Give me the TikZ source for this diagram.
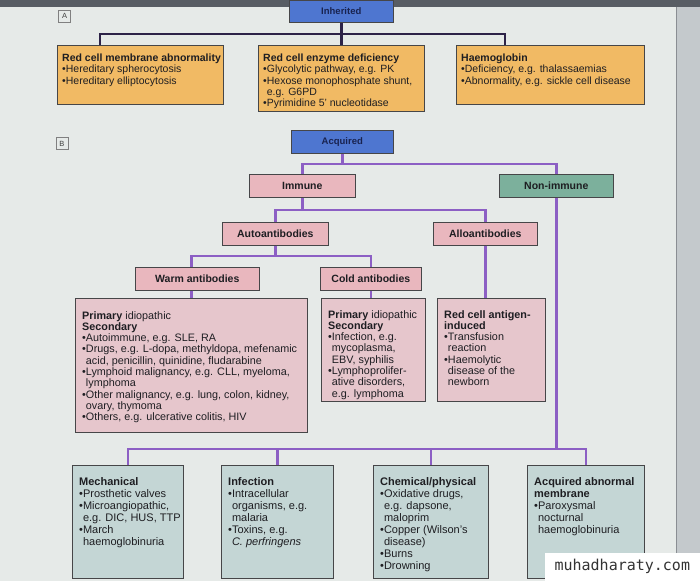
\documentclass[tikz,border=0pt]{standalone}
\usepackage{fontspec}
\setmainfont{Liberation Sans}
\newfontfamily\wmfont{DejaVu Sans Mono}
\usetikzlibrary{positioning,calc}

\definecolor{pagebg}{RGB}{230,234,232}
\definecolor{edgec}{RGB}{88,93,100}
\definecolor{stripc}{RGB}{196,201,204}
\definecolor{orangec}{RGB}{241,186,100}
\definecolor{bluec}{RGB}{78,118,208}
\definecolor{navyc}{RGB}{25,35,80}
\definecolor{pinkc}{RGB}{233,183,190}
\definecolor{lpinkc}{RGB}{230,198,204}
\definecolor{greenc}{RGB}{124,176,156}
\definecolor{greyc}{RGB}{196,214,213}
\definecolor{linea}{RGB}{45,35,72}
\definecolor{lineb}{RGB}{140,95,196}
\definecolor{bordc}{RGB}{70,70,72}
\definecolor{textc}{RGB}{30,30,34}

\newcommand{\bul}{\textbullet}
\newcommand{\ind}{\phantom{\textbullet}}
\newcommand{\bodyfont}{\fontsize{10.8}{11.3}\selectfont}
\newcommand{\lowfont}{\fontsize{11}{12.1}\selectfont}

\tikzset{
  box/.style={draw=bordc, line width=0.6pt, inner sep=0pt, anchor=north west},
  orbox/.style={box, fill=orangec},
  bluebox/.style={box, fill=bluec, text=navyc, font=\fontsize{9.5}{11}\selectfont\bfseries},
  pinkbox/.style={box, fill=pinkc, text=textc, font=\fontsize{10.5}{12}\selectfont\bfseries},
  greenbox/.style={box, fill=greenc, text=textc, font=\fontsize{10.5}{12}\selectfont\bfseries},
  lpinkbox/.style={box, fill=lpinkc},
  greybox/.style={box, fill=greyc},
  txt/.style={inner sep=0pt, align=left, text=textc, font=\bodyfont},
  atxt/.style={txt, font=\fontsize{10.5}{11.1}\selectfont},
  lowtxt/.style={txt, font=\lowfont},
  lbl/.style={draw=gray, line width=0.5pt, inner sep=0pt, minimum width=12pt, minimum height=12pt,
    text=black!75, font=\fontsize{7.5}{8}\selectfont},
  linka/.style={draw=linea, line width=2.6pt},
  linkb/.style={draw=lineb, line width=2.6pt}
}

\begin{document}
\begin{tikzpicture}[x=1pt, y=-1pt]
\useasboundingbox (0,0) rectangle (700,581);
\fill[pagebg] (0,0) rectangle (700,581);
\fill[edgec] (0,0) rectangle (700,7);
\fill[stripc] (676,7) rectangle (700,581);
\draw[edgec!70, line width=0.8pt] (676,7) -- (676,581);

% A: inherited
\node[lbl] (labA) at (64.5,16) {A};
\node[bluebox, minimum width=104pt, minimum height=22pt] (inh) at (289,0) {Inherited};
\node[orbox, minimum width=166pt, minimum height=59pt] (mem) at (57,45) {};
\node[orbox, minimum width=166pt, minimum height=66pt] (enz) at (258,45) {};
\node[orbox, minimum width=188pt, minimum height=59pt] (hb) at (456,45) {};

\draw[linka] (inh) -- (enz);
\draw[linka] ($(mem.north west)+(43,0)$) -- ++(0,-11) -| ($(hb.north west)+(49,0)$);

\node[atxt, below right=9pt and 5pt of mem.north west] (memtxt)
  {\textbf{Red cell membrane abnormality}\\ \bul Hereditary spherocytosis\\ \bul Hereditary elliptocytosis};
\node[atxt, below right=9pt and 5pt of enz.north west] (enztxt)
  {\textbf{Red cell enzyme deficiency}\\ \bul Glycolytic pathway, e.g. PK\\ \bul Hexose monophosphate shunt,\\
   \ind e.g. G6PD\\ \bul Pyrimidine 5' nucleotidase};
\node[atxt, below right=9pt and 5pt of hb.north west] (hbtxt)
  {\textbf{Haemoglobin}\\ \bul Deficiency, e.g. thalassaemias\\ \bul Abnormality, e.g. sickle cell disease};

% B: acquired
\node[lbl] (labB) at (62,143.5) {B};
\node[bluebox, minimum width=102pt, minimum height=23pt] (acq) at (291,130) {Acquired};
\node[pinkbox, minimum width=106pt, minimum height=23pt] (imm) at (249,174) {Immune};
\node[greenbox, minimum width=114pt, minimum height=23pt] (nonimm) at (499,174) {Non-immune};
\node[pinkbox, minimum width=106pt, minimum height=23pt] (auto) at (222,222) {Autoantibodies};
\node[pinkbox, minimum width=104pt, minimum height=23pt] (allo) at (433,222) {Alloantibodies};
\node[pinkbox, minimum width=124pt, minimum height=23pt] (warm) at (135,267) {Warm antibodies};
\node[pinkbox, minimum width=101pt, minimum height=23pt] (cold) at (320,267) {Cold antibodies};

\node[lpinkbox, minimum width=232pt, minimum height=134pt] (warmbox) at (75,298) {};
\node[lpinkbox, minimum width=104pt, minimum height=103pt] (coldbox) at (321,298) {};
\node[lpinkbox, minimum width=108pt, minimum height=103pt] (allobox) at (437,298) {};

\node[greybox, minimum width=111pt, minimum height=113pt] (mech) at (72,465) {};
\node[greybox, minimum width=112pt, minimum height=113pt] (inf) at (221,465) {};
\node[greybox, minimum width=115pt, minimum height=113pt] (chem) at (373,465) {};
\node[greybox, minimum width=117pt, minimum height=113pt] (acqm) at (527,465) {};

\draw[linkb] (acq.south) -- ++(0,11);
\draw[linkb] (imm.north) -- ++(0,-10) -| (nonimm.north);
\draw[linkb] (imm.south) -- ++(0,13);
\draw[linkb] (auto.north) -- ++(0,-12) -| (allo.north);
\draw[linkb] (auto.south) -- ++(0,11);
\draw[linkb] (warmbox.north |- warm.north) -- ++(0,-11) -| (cold.north);
\draw[linkb] (warmbox.north |- warm.south) -- (warmbox.north);
\draw[linkb] (cold.south) -- (cold.south |- coldbox.north);
\draw[linkb] (allo.south) -- (allo.south |- allobox.north);
\coordinate (bline) at (0,449);
\draw[linkb] (nonimm.south) -- (nonimm.south |- bline);
\draw[linkb] (mech.north) |- (bline -| acqm.north) -- (acqm.north);
\foreach \b in {inf,chem}
  \draw[linkb] (\b.north) -- (\b.north |- bline);

\node[txt, below right=13pt and 7pt of warmbox.north west] (warmtxt)
  {\textbf{Primary} idiopathic\\ \textbf{Secondary}\\ \bul Autoimmune, e.g. SLE, RA\\
   \bul Drugs, e.g. L-dopa, methyldopa, mefenamic\\ \ind acid, penicillin, quinidine, fludarabine\\
   \bul Lymphoid malignancy, e.g. CLL, myeloma,\\ \ind lymphoma\\
   \bul Other malignancy, e.g. lung, colon, kidney,\\ \ind ovary, thymoma\\
   \bul Others, e.g. ulcerative colitis, HIV};
\node[txt, below right=12pt and 7pt of coldbox.north west] (coldtxt)
  {\textbf{Primary} idiopathic\\ \textbf{Secondary}\\ \bul Infection, e.g.\\ \ind mycoplasma,\\
   \ind EBV, syphilis\\ \bul Lymphoprolifer-\\ \ind ative disorders,\\ \ind e.g. lymphoma};
\node[txt, below right=12pt and 7pt of allobox.north west] (allotxt)
  {\textbf{Red cell antigen-}\\ \textbf{induced}\\ \bul Transfusion\\ \ind reaction\\
   \bul Haemolytic\\ \ind disease of the\\ \ind newborn};

\node[lowtxt, below right=12pt and 7pt of mech.north west] (mechtxt)
  {\textbf{Mechanical}\\ \bul Prosthetic valves\\ \bul Microangiopathic,\\ \ind e.g. DIC, HUS, TTP\\
   \bul March\\ \ind haemoglobinuria};
\node[lowtxt, below right=12pt and 7pt of inf.north west] (inftxt)
  {\textbf{Infection}\\ \bul Intracellular\\ \ind organisms, e.g.\\ \ind malaria\\
   \bul Toxins, e.g.\\ \ind \textit{C. perfringens}};
\node[lowtxt, below right=12pt and 7pt of chem.north west] (chemtxt)
  {\textbf{Chemical/physical}\\ \bul Oxidative drugs,\\ \ind e.g. dapsone,\\ \ind maloprim\\
   \bul Copper (Wilson's\\ \ind disease)\\ \bul Burns\\ \bul Drowning};
\node[lowtxt, below right=12pt and 7pt of acqm.north west] (acqmtxt)
  {\textbf{Acquired abnormal}\\ \textbf{membrane}\\ \bul Paroxysmal\\ \ind nocturnal\\ \ind haemoglobinuria};

\node[fill=white, anchor=south east, inner sep=0pt, minimum width=155pt, minimum height=28pt,
  text=black!80, font=\wmfont\fontsize{15}{15}\selectfont] (wm) at (700,581) {muhadharaty.com};
\end{tikzpicture}
\end{document}
